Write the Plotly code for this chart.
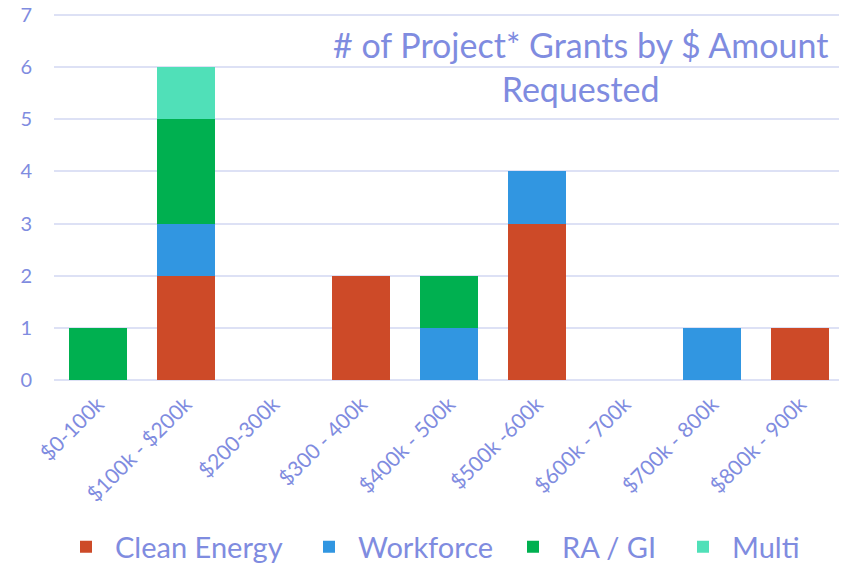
import plotly.graph_objects as go

categories = ["$0-100k", "$100k - $200k", "$200-300k", "$300 - 400k", "$400k - 500k",
              "$500k -600k", "$600k - 700k", "$700k - 800k", "$800k - 900k"]
clean_energy = [0, 2, 0, 2, 0, 3, 0, 0, 1]
workforce = [0, 1, 0, 0, 1, 1, 0, 1, 0]
ra_gi = [1, 2, 0, 0, 1, 0, 0, 0, 0]
multi = [0, 1, 0, 0, 0, 0, 0, 0, 0]

series_names = ["Clean Energy", "Workforce", "RA / GI", "Multi"]
series_values = [clean_energy, workforce, ra_gi, multi]
series_colors = ["#CD4A28", "#3196E1", "#00B050", "#50E0B8"]

TXT = "#7F8CE0"
FONT = "Lato, Open Sans, sans-serif"
W, H = 839, 555  # page body adds an 8px offset in the viewer

legend_x = [49, 292, 496, 666]  # container px for each legend entry

fig = go.Figure()
legend_layouts = {}
for i, (name, vals, col) in enumerate(zip(series_names, series_values, series_colors)):
    lname = "legend" if i == 0 else f"legend{i + 1}"
    fig.add_trace(go.Bar(x=categories, y=vals, name=name, marker_color=col,
                         marker_line_width=0, legend=lname))
    legend_layouts[lname] = dict(
        orientation="h", xref="container", x=legend_x[i] / W, xanchor="left",
        yref="container", y=1 - 539 / H, yanchor="middle",
        font=dict(size=29, color=TXT), itemwidth=48, bgcolor="rgba(0,0,0,0)")

fig.update_layout(
    barmode="stack",
    bargap=0.34,
    width=W, height=H,
    margin=dict(l=46, r=3, t=5, b=183, autoexpand=False),
    plot_bgcolor="white", paper_bgcolor="white",
    font=dict(family=FONT, color=TXT),
    showlegend=True,
    xaxis=dict(tickangle=-45, tickfont=dict(size=21, color=TXT), showgrid=False,
               showline=False, ticks="", automargin=False, ticklabelstandoff=7),
    yaxis=dict(range=[0, 7.04], tickvals=[0, 1, 2, 3, 4, 5, 6, 7],
               tickfont=dict(size=20, color=TXT), ticklabeloverflow="allow",
               gridcolor="#DDE1F5", gridwidth=1.5, zeroline=True, zerolinecolor="#DDE1F5",
               zerolinewidth=1.5, ticks="", ticklabelstandoff=21, automargin=False),
    annotations=[dict(text="# of Project* Grants by $ Amount<br>Requested", xref="paper",
                      yref="paper", x=0.667, y=0.975, xanchor="center", yanchor="top",
                      showarrow=False, font=dict(size=34, color=TXT, family=FONT))],
    **legend_layouts,
)

fig.write_html("out.html")
